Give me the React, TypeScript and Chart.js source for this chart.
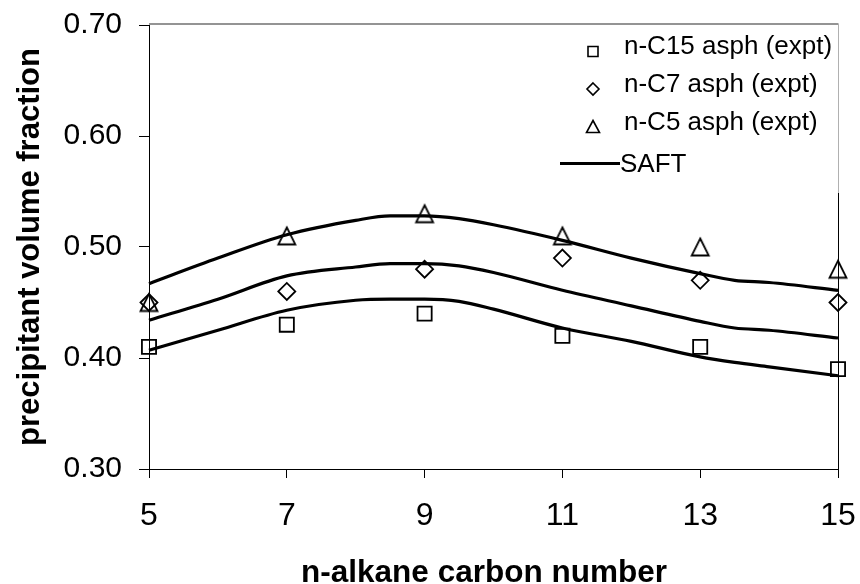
import React, { useEffect, useRef } from 'react';
import { Chart, registerables } from 'chart.js';

Chart.register(...registerables);

// ---- data ----
const carbonNumbers = [5, 7, 9, 11, 13, 15];
const c15Expt = [0.41, 0.43, 0.44, 0.42, 0.41, 0.39];
const c7Expt = [0.45, 0.46, 0.48, 0.49, 0.47, 0.45];
const c5Expt = [0.45, 0.51, 0.53, 0.51, 0.5, 0.48];

const saftX = [5, 6, 7, 8, 8.5, 9, 9.5, 10, 11, 12, 13, 13.5, 14, 15];
const saftUpper = [0.467, 0.49, 0.511, 0.524, 0.528, 0.528, 0.5255, 0.52, 0.506, 0.49, 0.476, 0.47, 0.468, 0.461];
const saftMiddle = [0.434, 0.453, 0.474, 0.482, 0.485, 0.485, 0.483, 0.477, 0.461, 0.447, 0.433, 0.427, 0.425, 0.418];
const saftLower = [0.407, 0.425, 0.443, 0.452, 0.453, 0.453, 0.451, 0.444, 0.427, 0.415, 0.401, 0.396, 0.392, 0.384];

const seriesLabels = ['n-C15 asph (expt)', 'n-C7 asph (expt)', 'n-C5 asph (expt)', 'SAFT'];
const xTitle = 'n-alkane carbon number';
const yTitle = 'precipitant volume fraction';

const FONT = "'Liberation Sans', Arial, Helvetica, sans-serif";

const toPoints = (xs: number[], ys: number[]) => xs.map((x, i) => ({ x, y: ys[i] }));

function drawMarker(ctx: CanvasRenderingContext2D, kind: string, x: number, y: number, s: number) {
  ctx.beginPath();
  if (kind === 'rect') {
    ctx.rect(x - s, y - s, 2 * s, 2 * s);
  } else if (kind === 'rectRot') {
    ctx.moveTo(x, y - s);
    ctx.lineTo(x + s, y);
    ctx.lineTo(x, y + s);
    ctx.lineTo(x - s, y);
    ctx.closePath();
  } else {
    ctx.moveTo(x, y - s);
    ctx.lineTo(x + s, y + s * 0.85);
    ctx.lineTo(x - s, y + s * 0.85);
    ctx.closePath();
  }
  ctx.stroke();
}

function makeTriangleStyle(): HTMLCanvasElement {
  const c = document.createElement('canvas');
  c.width = 22;
  c.height = 22;
  const g = c.getContext('2d')!;
  g.strokeStyle = '#000';
  g.lineWidth = 1.8;
  g.lineJoin = 'miter';
  g.beginPath();
  g.moveTo(11, 2.5);
  g.lineTo(19.5, 19.5);
  g.lineTo(2.5, 19.5);
  g.closePath();
  g.stroke();
  return c;
}

const framePlugin = {
  id: 'frameAndLegend',
  afterDraw(chart: any) {
    const { ctx, chartArea } = chart;
    const { left, right, top, bottom } = chartArea;
    ctx.save();
    // top border (gray)
    ctx.strokeStyle = '#707070';
    ctx.lineWidth = 1.5;
    ctx.beginPath();
    ctx.moveTo(left, top - 1);
    ctx.lineTo(right + 0.5, top - 1);
    ctx.stroke();
    // right border: light gray behind legend, black below
    const legendBottom = 193;
    ctx.strokeStyle = '#b0b0b0';
    ctx.lineWidth = 1;
    ctx.beginPath();
    ctx.moveTo(right + 0.5, top - 1);
    ctx.lineTo(right + 0.5, legendBottom);
    ctx.stroke();
    ctx.strokeStyle = '#000';
    ctx.beginPath();
    ctx.moveTo(right + 0.5, legendBottom);
    ctx.lineTo(right + 0.5, bottom);
    ctx.stroke();

    // x axis title
    ctx.fillStyle = '#000';
    ctx.font = `bold 31.5px ${FONT}`;
    ctx.textAlign = 'center';
    ctx.textBaseline = 'alphabetic';
    ctx.fillText(xTitle, 484, 582);

    // legend
    const markerX = 593;
    const textX = 624;
    const baselines = [53.5, 91.5, 129.5, 172];
    const kinds = ['rect', 'rectRot', 'triangle'];
    const sizes = [5, 6, 6.5];
    const markerY = [51.5, 89, 127];
    ctx.strokeStyle = '#000';
    ctx.lineWidth = 1.6;
    ctx.font = `26px ${FONT}`;
    ctx.textAlign = 'left';
    for (let i = 0; i < 3; i++) {
      drawMarker(ctx, kinds[i], markerX, markerY[i], sizes[i]);
      ctx.fillText(seriesLabels[i], textX, baselines[i]);
    }
    ctx.lineWidth = 3;
    ctx.beginPath();
    ctx.moveTo(560, 163.5);
    ctx.lineTo(620, 163.5);
    ctx.stroke();
    ctx.fillText(seriesLabels[3], 620, baselines[3]);
    ctx.restore();
  },
};

const zeroPadding = (scale: any) => {
  scale.paddingTop = 0;
  scale.paddingBottom = 0;
  scale.paddingLeft = 0;
  scale.paddingRight = 0;
};

export default function App() {
  const canvasRef = useRef<HTMLCanvasElement | null>(null);

  useEffect(() => {
    const canvas = canvasRef.current;
    if (!canvas) return;
    const markerCommon = {
      showLine: false,
      borderColor: '#000',
      backgroundColor: 'rgba(0,0,0,0)',
      borderWidth: 1.8,
      pointBorderWidth: 1.8,
      pointBackgroundColor: 'rgba(0,0,0,0)',
      pointBorderColor: '#000',
      clip: false as any,
    };
    const lineCommon = {
      showLine: true,
      borderColor: '#000',
      backgroundColor: '#000',
      borderWidth: 3.2,
      pointRadius: 0,
      pointHoverRadius: 0,
      cubicInterpolationMode: 'monotone' as const,
      clip: false as any,
    };
    const triangleStyle = makeTriangleStyle();
    const chart = new Chart(canvas, {
      type: 'scatter',
      data: {
        datasets: [
          { ...lineCommon, label: seriesLabels[3], data: toPoints(saftX, saftUpper) },
          { ...lineCommon, label: seriesLabels[3] + ' 2', data: toPoints(saftX, saftMiddle) },
          { ...lineCommon, label: seriesLabels[3] + ' 3', data: toPoints(saftX, saftLower) },
          { ...markerCommon, label: seriesLabels[0], data: toPoints(carbonNumbers, c15Expt), pointStyle: 'rect', pointRadius: 10 },
          { ...markerCommon, label: seriesLabels[1], data: toPoints(carbonNumbers, c7Expt), pointStyle: 'rectRot', pointRadius: 8.5 },
          { ...markerCommon, label: seriesLabels[2], data: toPoints(carbonNumbers, c5Expt), pointStyle: triangleStyle as any, pointRadius: 10 },
        ],
      },
      options: {
        animation: false,
        responsive: false,
        devicePixelRatio: 1,
        events: [],
        layout: { padding: { top: 25, right: 22, left: 0, bottom: 0 } },
        plugins: {
          legend: { display: false },
          tooltip: { enabled: false },
          title: { display: false },
        },
        scales: {
          x: {
            type: 'linear',
            min: 5,
            max: 15,
            afterFit: (scale: any) => {
              scale.height = 115;
              zeroPadding(scale);
            },
            ticks: {
              stepSize: 2,
              color: '#000',
              font: { family: FONT, size: 32 },
              padding: 19,
              maxRotation: 0,
              autoSkip: false,
            },
            grid: {
              drawOnChartArea: false,
              drawTicks: true,
              tickLength: 9,
              tickColor: '#000',
              tickWidth: 1,
            },
            border: { display: true, color: '#000', width: 1 },
            title: { display: false },
          },
          y: {
            type: 'linear',
            min: 0.3,
            max: 0.7,
            afterFit: (scale: any) => {
              scale.width = 149;
              zeroPadding(scale);
            },
            ticks: {
              stepSize: 0.1,
              color: '#000',
              font: { family: FONT, size: 30 },
              padding: 17,
              callback: (v: any) => Number(v).toFixed(2),
            },
            grid: {
              drawOnChartArea: false,
              drawTicks: true,
              tickLength: 10,
              tickColor: '#000',
              tickWidth: 1,
            },
            border: { display: true, color: '#000', width: 1 },
            title: {
              display: true,
              text: yTitle,
              color: '#000',
              font: { family: FONT, size: 31, weight: 'bold', lineHeight: 1.2 },
              padding: { top: 12, bottom: 0 },
            },
          },
        },
      },
      plugins: [framePlugin],
    });
    return () => chart.destroy();
  }, []);

  return (
    <div style={{ position: 'fixed', left: 0, top: 0, width: 860, height: 584, background: '#fff' }}>
      <canvas ref={canvasRef} width={860} height={584} style={{ display: 'block' }} />
    </div>
  );
}
